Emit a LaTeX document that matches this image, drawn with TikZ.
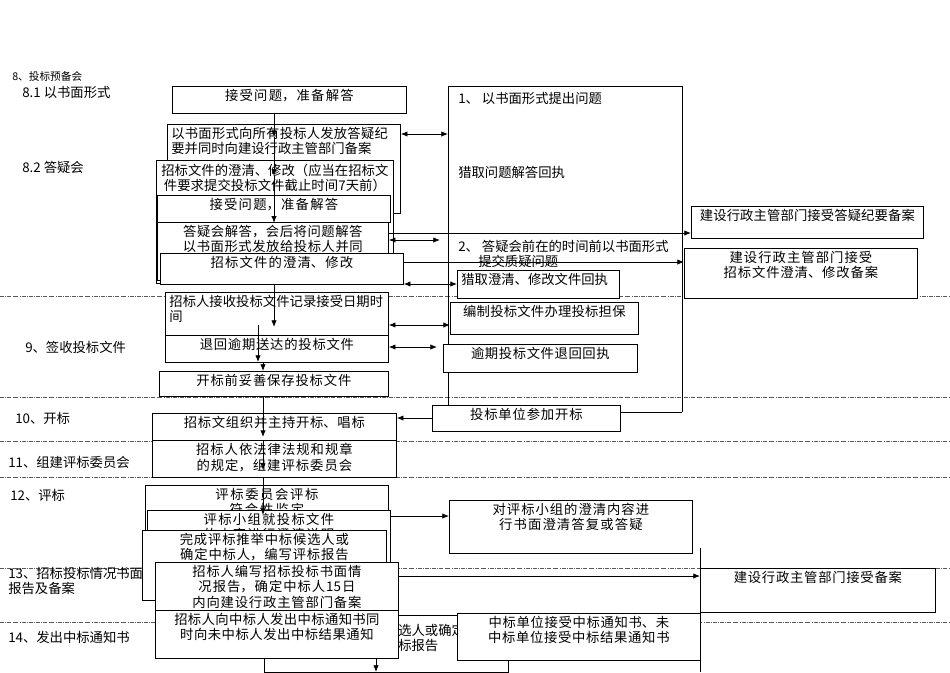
\documentclass[tikz,border=0pt]{standalone}
\usepackage{fontspec}
\setmainfont{Noto Sans CJK SC}
\XeTeXlinebreaklocale "zh"
\XeTeXlinebreakskip=0pt plus 0.5pt
\usetikzlibrary{arrows.meta}
\tikzset{
  lbl/.style={anchor=west,inner sep=0,font=\fontsize{10}{11}\selectfont},
  txt/.style={anchor=west,inner sep=0,font=\fontsize{10}{11}\selectfont},
  sep/.style={densely dash dot,line width=0.5pt,gray!70!black},
  arr/.style={-{Latex[length=5pt,width=4pt]},line width=0.6pt},
  darr/.style={{Latex[length=5pt,width=4pt]}-{Latex[length=5pt,width=4pt]},line width=0.6pt},
  ln/.style={line width=0.6pt}
}
\newcommand\bx[7][center]{%
  \pgfmathsetmacro\bw{(#5-#3)*0.75}\pgfmathsetmacro\bh{(#6-#4)*0.75}%
  \node[draw,line width=0.6pt,fill=white,minimum width=\bw pt,minimum height=\bh pt,anchor=north west,inner sep=0] (#2) at (#3,#4) {};%
  \node[anchor=north,inner sep=0,yshift=-2.5pt,text width=\bw pt-6pt,align=#1,font=\fontsize{10}{11.3}\selectfont] (#2t) at (#2.north) {#7};%
}
\begin{document}
\begin{tikzpicture}[x=0.75pt,y=-0.75pt]
\useasboundingbox (0,0) rectangle (950,672);
% separators
\foreach \yy in {296,397,441,477,568,622} \draw[sep] (0,\yy) -- (950,\yy);
% left labels
\node[lbl,font=\fontsize{8}{9}\selectfont] (l8) at (12,76) {8、投标预备会};
\node[lbl] (l81) at (22,92) {8.1 以书面形式};
\node[lbl] (l82) at (22,167) {8.2 答疑会};
\node[lbl] (l9) at (25,347) {9、签收投标文件};
\node[lbl] (l10) at (15,418) {10、开标};
\node[lbl] (l11) at (8,462) {11、组建评标委员会};
\node[lbl] (l12) at (10,495) {12、评标};
\node[lbl] (l13) at (8,573) {13、招标投标情况书面};
\node[lbl] (l13b) at (8,588) {报告及备案};
\node[lbl] (l14) at (8,637) {14、发出中标通知书};
% big right box
\draw[ln] (448,405) -- (448,86) coordinate (bbtl) -- (682,86) -- (682,412) coordinate (bbbr);
\node[txt] (r1) at (458,98) {1、 以书面形式提出问题};
\node[txt] (r1b) at (458,172) {猎取问题解答回执};
\node[txt] (r2) at (458,246) {2、 答疑会前在的时间前以书面形式};
\node[txt] (r2b) at (478,261) {提交质疑问题};
% far right boxes
\bx{g1}{691}{206}{923}{238}{建设行政主管部门接受答疑纪要备案}
\bx{g2}{684}{248}{917}{298}{建设行政主管部门接受招标文件澄清、修改备案}
% center column 8
\bx{a}{172}{86}{406}{113}{接受问题，准备解答}
\bx[left]{b}{167}{124}{400}{213}{以书面形式向所有投标人发放答疑纪要并同时向建设行政主管部门备案}
\bx{c}{156}{160}{393}{283}{招标文件的澄清、修改（应当在招标文件要求提交投标文件截止时间7天前）}
\bx{d}{157}{195}{390}{222}{接受问题，准备解答}
\bx{e}{157}{222}{388}{280}{答疑会解答，会后将问题解答以书面形式发放给投标人并同时向建设行政主管部门备案}
\bx{f}{160}{253}{403}{284}{招标文件的澄清、修改}
\bx[left]{h}{457}{270}{619}{298}{猎取澄清、修改文件回执}
% 9
\bx[left]{i}{165}{292}{388}{335}{招标人接收投标文件记录接受日期时间}
\bx{j}{165}{335}{388}{362}{退回逾期送达的投标文件}
\bx{k}{159}{371}{388}{396}{开标前妥善保存投标文件}
\bx{m}{450}{302}{638}{334}{编制投标文件办理投标担保}
\bx{n}{443}{344}{637}{372}{逾期投标文件退回回执}
% 10 11
\bx{o}{432}{405}{620}{431}{投标单位参加开标}
\bx{p}{152}{413}{396}{440}{招标文组织并主持开标、唱标}
\bx{q}{152}{440}{396}{477}{招标人依法律法规和规章的规定，组建评标委员会}
% 12
\bx{s1}{145}{485}{388}{568}{评标委员会评标\\符合性监定}
\bx{s2}{147}{510}{390}{585}{评标小组就投标文件的内容进行澄清说明}
\bx{s3}{142}{530}{386}{600}{完成评标推举中标候选人或确定中标人，编写评标报告}
\bx{t}{449}{500}{692}{553}{对评标小组的澄清内容进行书面澄清答复或答疑}
% hidden box behind 14
\bx{hid}{264}{615}{508}{672}{}
\node[txt] (hid1) at (398,630) {选人或确定};
\node[txt] (hid2) at (398,645) {标报告};
% 13 14
\bx{u}{155}{562}{398}{610}{招标人编写招标投标书面情况报告，确定中标人15日内向建设行政主管部门备案}
\bx{v}{155}{610}{398}{658}{招标人向中标人发出中标通知书同时向未中标人发出中标结果通知}
\bx{w}{457}{613}{700}{660}{中标单位接受中标通知书、未中标单位接受中标结果通知书}
\bx{x}{700}{568}{935}{612}{建设行政主管部门接受备案}
\draw[ln] (700,548) coordinate (vt) -- (700,672) coordinate (vb);
% vertical flow
\draw[arr] (a.south -| 274,0) -- (274,137) coordinate (p1);
\draw[arr] (p1) -- (274,176) coordinate (p2);
\draw[arr] (p2) -- (d.south -| 274,0);
\draw[arr] (f.south -| 274,0) -- (274,327) coordinate (p3);
\draw[arr] (258,325) -- (258,362) coordinate (p4);
\draw[arr] (263,362) -- (k.north -| 263,0);
\draw[arr] (k.south -| 263,0) -- (263,437);
\draw[arr] (263,440) -- (263,470);
\draw[arr] (263,477) -- (263,515);
\draw[arr] (v.south -| 376,0) -- (376,672);
% horizontal arrows
\draw[darr] (b.east |- 0,134) -- (bbtl |- 0,134);
\draw[darr] (e.east |- 0,240) -- (440,240);
\draw[darr] (f.east |- 0,284) -- (h.west |- 0,284);
\draw[darr] (i.east |- 0,325) -- (m.west |- 0,325);
\draw[darr] (j.east |- 0,347) -- (437,347);
\draw[arr] (e.east |- 0,233) -- (g1.west |- 0,233);
\draw[arr] (f.east |- 0,262) -- (g2.west |- 0,262);
\draw[ln] (bbbr) -- (o.east |- bbbr);
\draw[arr] (o.west |- 0,418) -- (p.east |- 0,418);
\draw[arr] (s2.east |- 0,516) -- (t.west |- 0,516);
\draw[arr] (u.east |- 0,576) -- (x.west |- 0,576);
\end{tikzpicture}
\end{document}
